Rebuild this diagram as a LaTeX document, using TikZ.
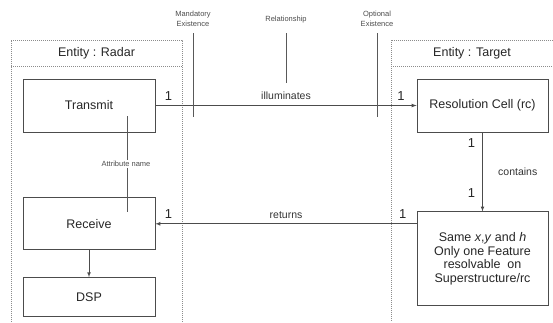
\documentclass[tikz,border=0pt]{standalone}
\usepackage{fontspec}
\setmainfont{Liberation Sans}
\usetikzlibrary{arrows, positioning}

\begin{document}
\begin{tikzpicture}[x=1pt, y=-1pt, >=latex]
            \tikzset{
                part_box/.style={draw=black!70, shape = rectangle, line width=0.8pt, inner sep=0pt,
                    minimum width=132pt, minimum height=53pt, text=black!85, font=\fontsize{12.5}{13.5}\selectfont},
                entity_frame/.style={draw=black!45, dash pattern=on 1pt off 1pt, line width=0.6pt},
                entity_title/.style={text=black!85, font=\fontsize{12.5}{14}\selectfont},
                rel_line/.style={draw=black!70, line width=0.7pt},
                rel_label/.style={text=black!80, font=\fontsize{10.5}{12}\selectfont},
                card/.style={text=black!85, inner sep=0pt, font=\fontsize{13}{14}\selectfont},
                note/.style={text=black!70, align=center, inner sep=1pt, font=\fontsize{7.5}{10}\selectfont},
                note_line/.style={draw=black!65, line width=0.7pt}
            }
            \useasboundingbox (0,0) rectangle (553,322);
            % entities
            \draw[entity_frame] (11,322) -- (11,40) -- (182,40) -- (182,322);
            \draw[entity_frame] (11,66) -- (182,66);
            \draw[entity_frame] (553,40) -- (391,40) -- (391,322);
            \draw[entity_frame] (391,66) -- (553,66);
            \node[entity_title] (radar) at (96.5,53) {Entity : Radar};
            \node[entity_title] (target) at (472,53) {Entity : Target};
            % parts
            \node[part_box] (transmit) at (89,105.5) {Transmit};
            \node[part_box] (receive) [below=65pt of transmit, minimum height=52pt] {Receive};
            \node[part_box] (dsp) [below=27pt of receive, minimum height=39pt] {DSP};
            \node[part_box, minimum width=131pt] (cell) at (482.5,105.5) {Resolution Cell (rc)};
            \node[part_box, minimum width=131pt, minimum height=94pt, align=center] (feature) [below=79pt of cell]
                {Same \textit{x},\textit{y} and \textit{h}\\Only one Feature\\resolvable\ \ on\\Superstructure/rc};
            % relationships
            \draw[rel_line, ->] (transmit) -- node[rel_label, above=2pt] {illuminates}
                node[card, pos=0.05, above=5pt] {1} node[card, pos=0.94, above=5pt] {1} (cell);
            \draw[rel_line, ->] (cell) -- node[rel_label, right=12pt] {contains}
                node[card, pos=0.14, left=7pt] {1} node[card, pos=0.77, left=7pt] {1} (feature);
            \draw[rel_line, ->] (feature.west |- receive) -- node[rel_label, above=2pt] {returns}
                node[card, pos=0.053, above=5pt] {1} node[card, pos=0.95, above=5pt] {1} (receive);
            \draw[rel_line, ->] (receive) -- (dsp);
            % notes
            \node[note] (mandatory) at (193,19) {Mandatory\\Existence};
            \node[note] (relation) at (286,20) {Relationship};
            \node[note] (optional) at (377,19) {Optional\\Existence};
            \node[note] (attribute) at (126,164) {Attribute name};
            \coordinate (mandatory_end) at (193,117);
            \coordinate (relation_end) at (286,83);
            \coordinate (optional_end) at (377,117);
            \coordinate (attr_top) at (127,116);
            \coordinate (attr_bottom) at (127,212);
            \draw[note_line] (mandatory) ++(0,14) -- (mandatory_end);
            \draw[note_line] (relation) ++(0,13) -- (relation_end);
            \draw[note_line] (optional) ++(0,14) -- (optional_end);
            \draw[note_line] (attr_top) -- (attr_top |- attribute.north);
            \draw[note_line] (attr_bottom |- attribute.south) -- (attr_bottom);
        \end{tikzpicture}
\end{document}
